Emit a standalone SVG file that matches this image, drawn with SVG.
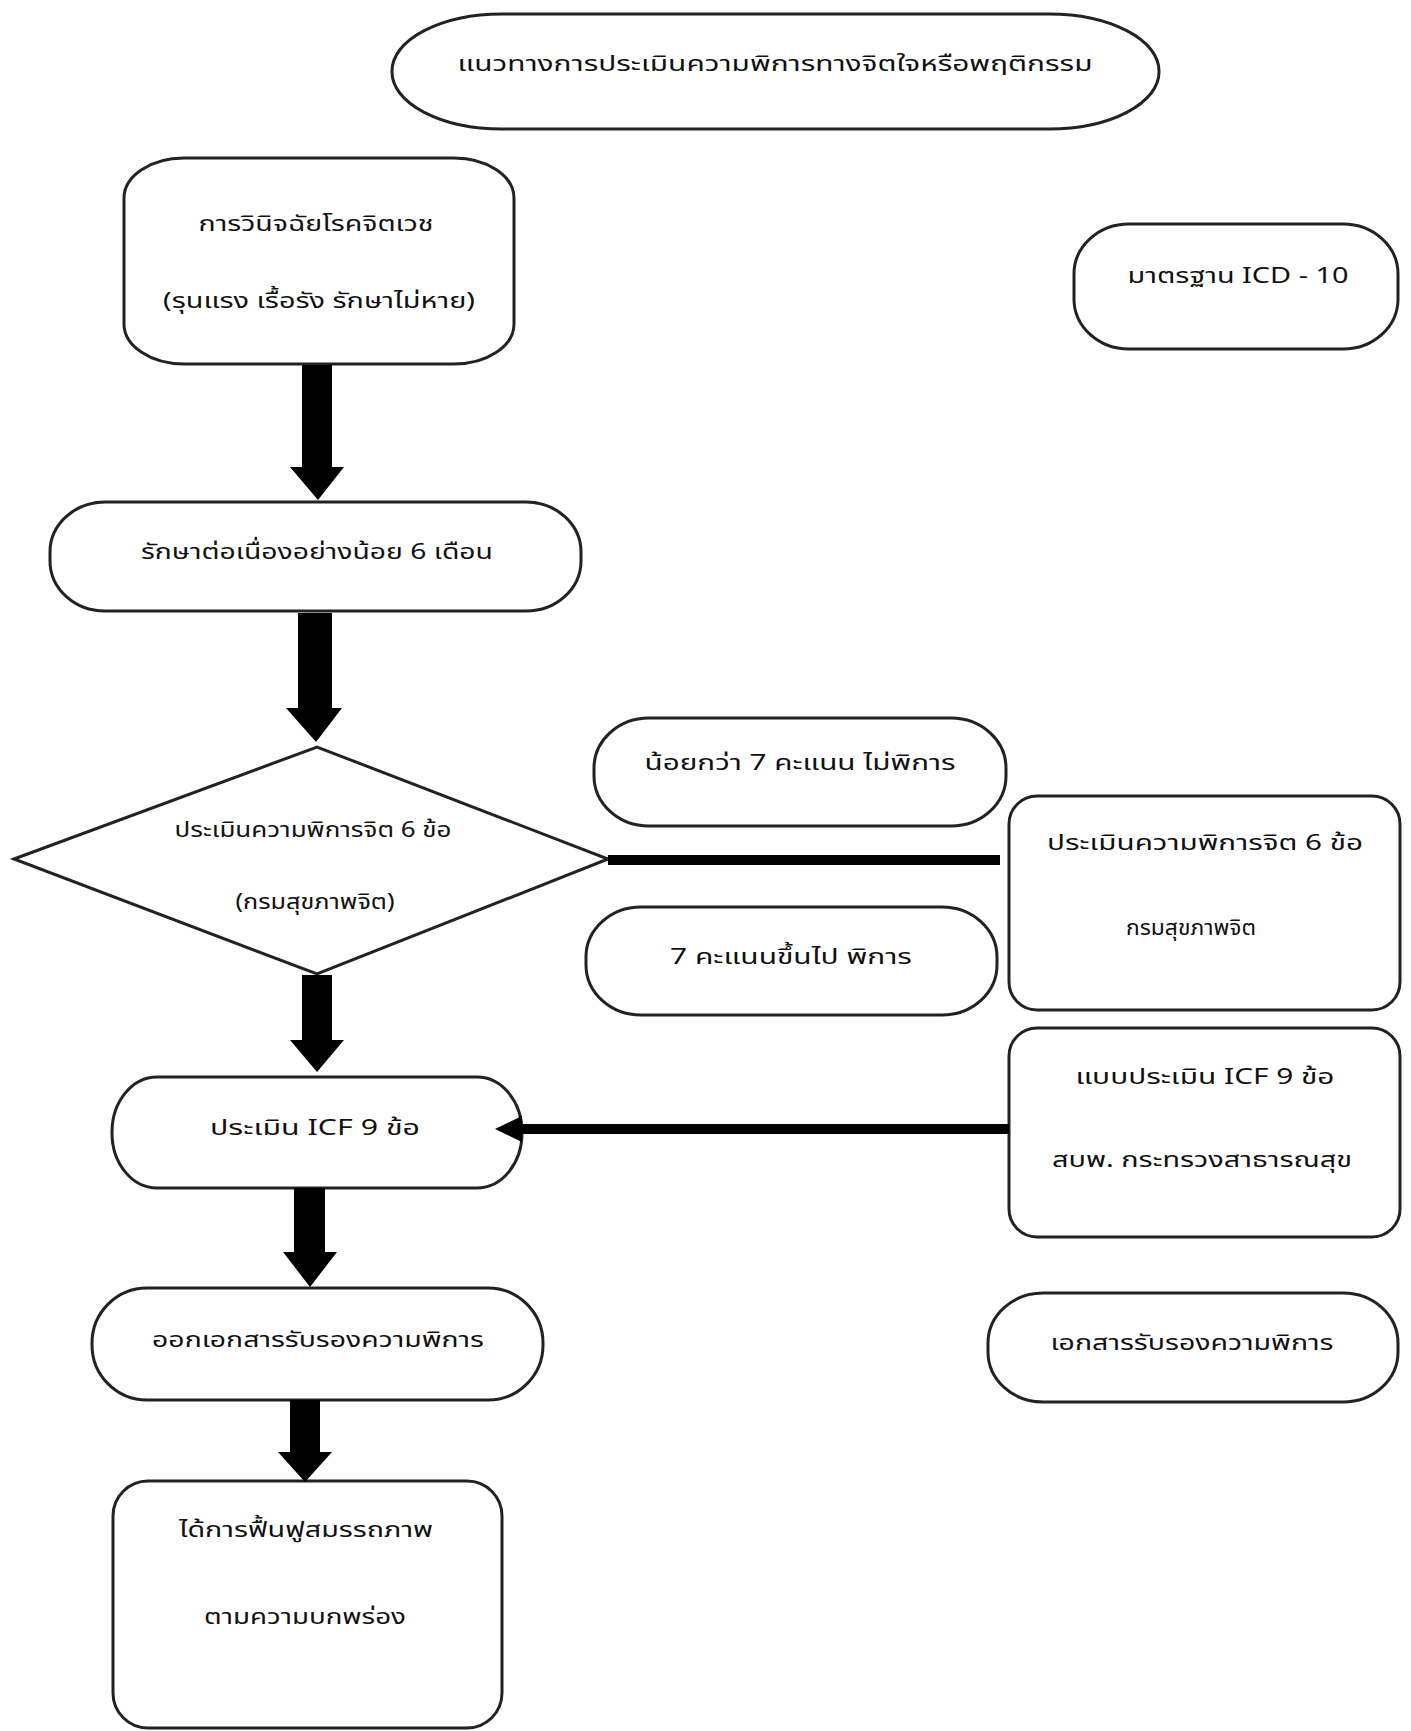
<svg xmlns="http://www.w3.org/2000/svg" width="1411" height="1731" viewBox="0 0 1411 1731">
<style>
.s{fill:#fff;stroke:#222;stroke-width:3}
.t{font-family:"Noto Sans Thai","Tahoma","Liberation Sans","DejaVu Sans",sans-serif;font-size:22px;fill:#111;text-anchor:middle;dominant-baseline:central}
.a{fill:#000}
.l{stroke:#000;stroke-width:10;fill:none}
</style>
<rect width="1411" height="1731" fill="#fff"/>
<g id="title">
<rect class="s" x="392" y="14" width="767" height="115" rx="110" ry="57"/>
<text class="t" x="775" y="64" textLength="635" lengthAdjust="spacingAndGlyphs">แนวทางการประเมินความพิการทางจิตใจหรือพฤติกรรม</text>
</g>
<g id="diagnosis">
<rect class="s" x="124" y="158" width="390" height="206" rx="60" ry="40"/>
<text class="t" x="316" y="224" textLength="235" lengthAdjust="spacingAndGlyphs">การวินิจฉัยโรคจิตเวช</text>
<text class="t" x="319" y="301" textLength="312" lengthAdjust="spacingAndGlyphs">(รุนแรง เรื้อรัง รักษาไม่หาย)</text>
</g>
<g id="icd">
<rect class="s" x="1074" y="224" width="324" height="125" rx="55" ry="50"/>
<text class="t" x="1238" y="276" textLength="221" lengthAdjust="spacingAndGlyphs">มาตรฐาน ICD - 10</text>
</g>
<g id="treatment">
<rect class="s" x="50" y="502" width="531" height="109" rx="55" ry="50"/>
<text class="t" x="317" y="552" textLength="352" lengthAdjust="spacingAndGlyphs">รักษาต่อเนื่องอย่างน้อย 6 เดือน</text>
</g>
<g id="assess6">
<polygon class="s" points="14,859 317,747 608,859 317,974"/>
<text class="t" x="313" y="830" textLength="277" lengthAdjust="spacingAndGlyphs">ประเมินความพิการจิต 6 ข้อ</text>
<text class="t" x="315" y="902" textLength="159" lengthAdjust="spacingAndGlyphs">(กรมสุขภาพจิต)</text>
</g>
<g id="less7">
<rect class="s" x="594" y="718" width="412" height="108" rx="55" ry="50"/>
<text class="t" x="800" y="763" textLength="311" lengthAdjust="spacingAndGlyphs">น้อยกว่า 7 คะแนน ไม่พิการ</text>
</g>
<g id="more7">
<rect class="s" x="586" y="907" width="411" height="108" rx="55" ry="50"/>
<text class="t" x="791" y="957" textLength="242" lengthAdjust="spacingAndGlyphs">7 คะแนนขึ้นไป พิการ</text>
</g>
<g id="form6">
<rect class="s" x="1009" y="796" width="391" height="214" rx="28" ry="28"/>
<text class="t" x="1205" y="843" textLength="316" lengthAdjust="spacingAndGlyphs">ประเมินความพิการจิต 6 ข้อ</text>
<text class="t" x="1191" y="928" textLength="130" lengthAdjust="spacingAndGlyphs">กรมสุขภาพจิต</text>
</g>
<g id="formicf">
<rect class="s" x="1009" y="1028" width="391" height="209" rx="28" ry="28"/>
<text class="t" x="1205" y="1077" textLength="259" lengthAdjust="spacingAndGlyphs">แบบประเมิน ICF 9 ข้อ</text>
<text class="t" x="1202" y="1160" textLength="300" lengthAdjust="spacingAndGlyphs">สบพ. กระทรวงสาธารณสุข</text>
</g>
<g id="icf">
<rect class="s" x="112" y="1077" width="410" height="111" rx="45" ry="55"/>
<text class="t" x="315" y="1128" textLength="210" lengthAdjust="spacingAndGlyphs">ประเมิน ICF 9 ข้อ</text>
</g>
<g id="certify">
<rect class="s" x="92" y="1288" width="451" height="112" rx="55" ry="55"/>
<text class="t" x="318" y="1340" textLength="332" lengthAdjust="spacingAndGlyphs">ออกเอกสารรับรองความพิการ</text>
</g>
<g id="document">
<rect class="s" x="988" y="1293" width="410" height="109" rx="55" ry="50"/>
<text class="t" x="1192" y="1343" textLength="283" lengthAdjust="spacingAndGlyphs">เอกสารรับรองความพิการ</text>
</g>
<g id="rehab">
<rect class="s" x="113" y="1481" width="389" height="247" rx="35" ry="35"/>
<text class="t" x="306" y="1530" textLength="254" lengthAdjust="spacingAndGlyphs">ได้การฟื้นฟูสมรรถภาพ</text>
<text class="t" x="305" y="1617" textLength="202" lengthAdjust="spacingAndGlyphs">ตามความบกพร่อง</text>
</g>
<g id="connectors">
<polygon class="a" points="302,365 332,365 332,467 344,467 318,500 290,467 302,467"/>
<polygon class="a" points="298,613 332,613 332,708 342,708 316,742 286,708 298,708"/>
<polygon class="a" points="302,975 332,975 332,1040 344,1040 317,1072 290,1040 302,1040"/>
<polygon class="a" points="294,1188 325,1188 325,1252 337,1252 310,1287 283,1252 294,1252"/>
<polygon class="a" points="290,1400 320,1400 320,1452 332,1452 305,1482 278,1452 290,1452"/>
<line class="l" x1="608" y1="860" x2="1000" y2="860"/>
<line class="l" x1="518" y1="1129" x2="1009" y2="1129"/>
<polygon class="a" points="495,1129 522,1116 522,1142"/>
</g>
</svg>
